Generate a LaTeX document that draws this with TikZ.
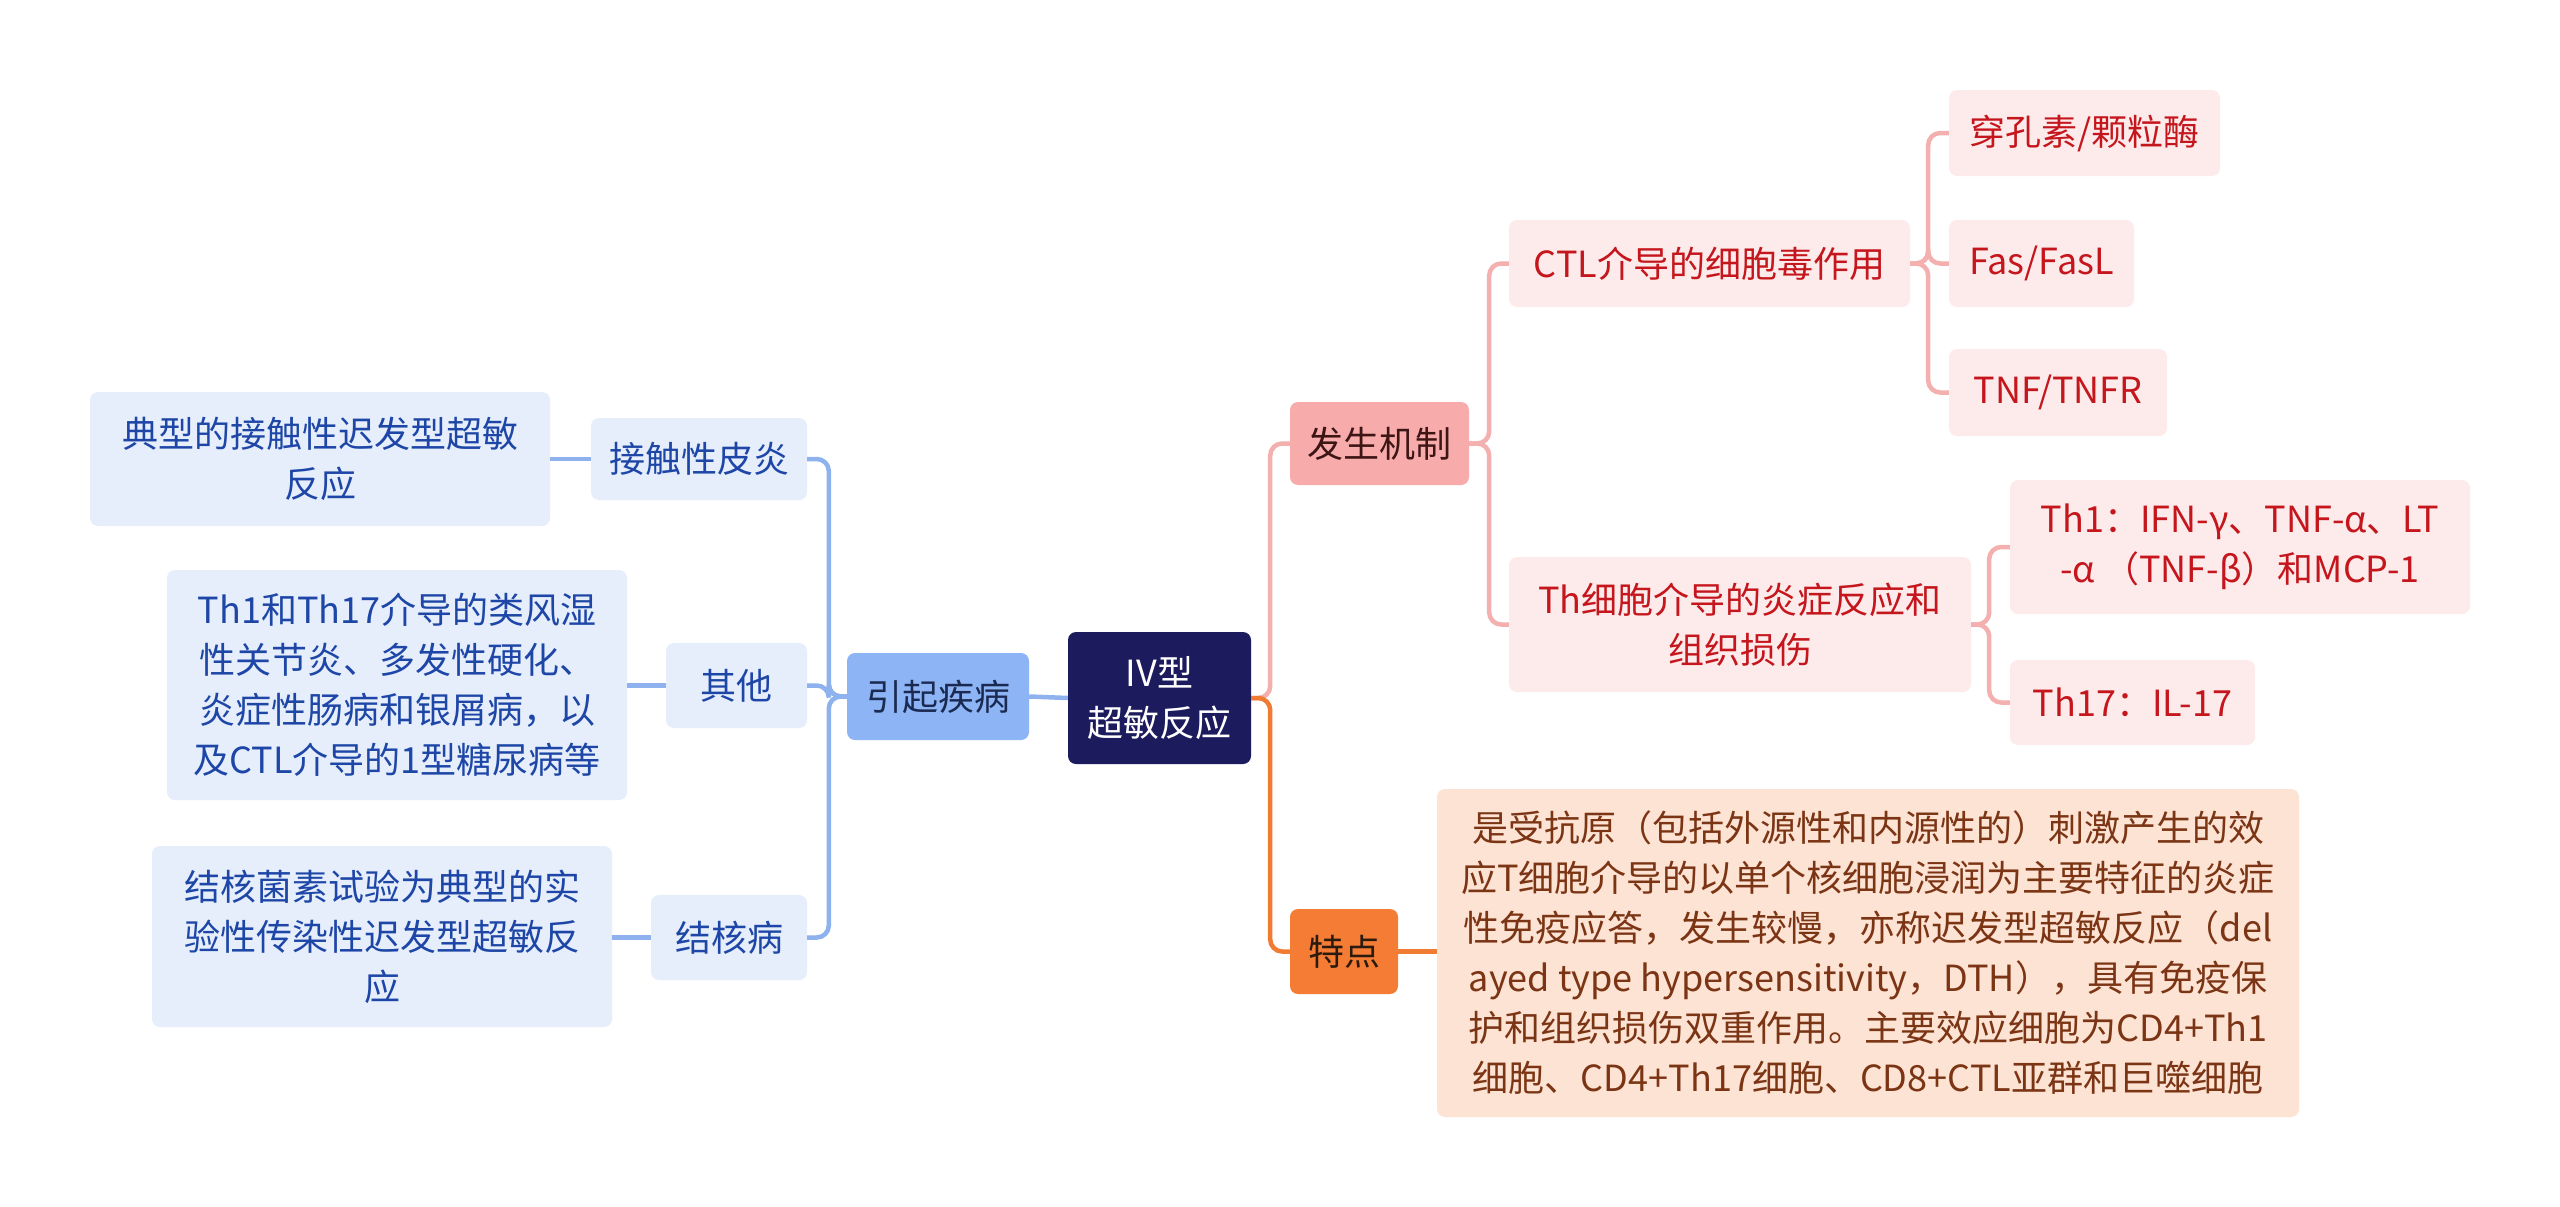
\documentclass[tikz,border=0pt]{standalone}
\usepackage{fontspec}
\setmainfont{Noto Sans CJK SC}
\definecolor{navy}{HTML}{1C1B5E}
\definecolor{bmid}{HTML}{8DB4F5}
\definecolor{btxtd}{HTML}{1A2A50}
\definecolor{blight}{HTML}{E6EEFC}
\definecolor{btxt}{HTML}{1D46A6}
\definecolor{bline}{HTML}{8DB2EE}
\definecolor{pmid}{HTML}{F8ABAB}
\definecolor{ptxtd}{HTML}{3D1515}
\definecolor{plight}{HTML}{FDEBEB}
\definecolor{ptxt}{HTML}{C4161C}
\definecolor{pline}{HTML}{F4AFAF}
\definecolor{omid}{HTML}{F47C35}
\definecolor{otxtd}{HTML}{2B1A0E}
\definecolor{olight}{HTML}{FDE3D4}
\definecolor{otxt}{HTML}{7B3515}
\definecolor{oline}{HTML}{F07B32}
\tikzset{
  basebox/.style={rounded corners=8pt, inner sep=0pt, align=center,
    font=\fontsize{36pt}{50pt}\selectfont},
  rootbox/.style={basebox, fill=navy, text=white},
  bmidbox/.style={basebox, fill=bmid, text=btxtd},
  blbox/.style={basebox, fill=blight, text=btxt},
  pmidbox/.style={basebox, fill=pmid, text=ptxtd},
  plbox/.style={basebox, fill=plight, text=ptxt},
  omidbox/.style={basebox, fill=omid, text=otxtd},
  olbox/.style={basebox, fill=olight, text=otxt},
  conn/.style={line width=4.5pt, rounded corners=12pt},
  bconn/.style={conn, draw=bline},
  pconn/.style={conn, draw=pline},
  oconn/.style={conn, draw=oline},
}
\begin{document}
\begin{tikzpicture}[x=1pt,y=-1pt]
\fill[white] (0,0) rectangle (2560,1207);
\useasboundingbox (0,0) rectangle (2560,1207);

% root
\node[rootbox, minimum width=183pt, minimum height=132pt] (c) at (1159.5,698) {IV型\\超敏反应};

% left side
\node[bmidbox, minimum width=182pt, minimum height=87pt] (yq) at (938,696.5) {引起疾病};
\node[blbox, minimum width=216pt, minimum height=82pt] (L1) at (699,459) {接触性皮炎};
\node[blbox, minimum width=141pt, minimum height=85pt] (L2) at (736.5,685.5) {其他};
\node[blbox, minimum width=156pt, minimum height=85pt] (L3) at (729,937.5) {结核病};
\node[blbox, minimum width=460pt, minimum height=134pt] (L1a) at (320,459) {典型的接触性迟发型超敏\\反应};
\node[blbox, minimum width=460pt, minimum height=230pt] (L2a) at (397,685) {Th1和Th17介导的类风湿\\性关节炎、多发性硬化、\\炎症性肠病和银屑病，以\\及CTL介导的1型糖尿病等};
\node[blbox, minimum width=460pt, minimum height=181pt] (L3a) at (382,936.5) {结核菌素试验为典型的实\\验性传染性迟发型超敏反\\应};

% right side
\node[pmidbox, minimum width=179pt, minimum height=83pt] (R1) at (1379.5,443.5) {发生机制};
\node[omidbox, minimum width=108pt, minimum height=85pt] (R2) at (1344,951.5) {特点};
\node[plbox, minimum width=401pt, minimum height=87pt] (R1a) at (1709.5,263.5) {CTL介导的细胞毒作用};
\node[plbox, minimum width=462pt, minimum height=135pt] (R1b) at (1740,624.5) {Th细胞介导的炎症反应和\\组织损伤};
\node[plbox, minimum width=271pt, minimum height=86pt] (R1a1) at (2084.5,133) {穿孔素/颗粒酶};
\node[plbox, minimum width=185pt, minimum height=87pt] (R1a2) at (2041.5,263.5) {Fas/FasL};
\node[plbox, minimum width=218pt, minimum height=87pt] (R1a3) at (2058,392.5) {TNF/TNFR};
\node[plbox, minimum width=460pt, minimum height=134pt] (R1b1) at (2240,547) {Th1：IFN-γ、TNF-α、LT\\-α （TNF-β）和MCP-1};
\node[plbox, minimum width=245pt, minimum height=85pt] (R1b2) at (2132.5,702.5) {Th17：IL-17};
\node[olbox, minimum width=862pt, minimum height=328pt] (R2a) at (1868,953) { 是受抗原（包括外源性和内源性的）刺激产生的效\\应T细胞介导的以单个核细胞浸润为主要特征的炎症\\性免疫应答，发生较慢，亦称迟发型超敏反应（del\\ayed type hypersensitivity，DTH），具有免疫保\\护和组织损伤双重作用。主要效应细胞为CD4+Th1\\细胞、CD4+Th17细胞、CD8+CTL亚群和巨噬细胞};

% connectors left
\draw[bconn] (c.west) -- (yq.east);
\draw[bconn] (yq.west) -- ++(-18,0) |- (L1.east);
\draw[bconn] (yq.west) -- ++(-18,0) |- (L2.east);
\draw[bconn] (yq.west) -- ++(-18,0) |- (L3.east);
\draw[bconn] (L1.west) -- (L1.west -| L1a.east);
\draw[bconn] (L2.west) -- (L2.west -| L2a.east);
\draw[bconn] (L3.west) -- (L3.west -| L3a.east);

% connectors right
\draw[pconn] (c.east) -- ++(19,0) |- (R1.west);
\draw[oconn] (c.east) -- ++(19,0) |- (R2.west);
\draw[oconn] (R2.east) -- (R2.east -| R2a.west);
\draw[pconn] (R1.east) -- ++(20,0) |- (R1a.west);
\draw[pconn] (R1.east) -- ++(20,0) |- (R1b.west);
\draw[pconn] (R1a.east) -- ++(18,0) |- (R1a1.west);
\draw[pconn] (R1a.east) -- ++(18,0) |- (R1a2.west);
\draw[pconn] (R1a.east) -- ++(18,0) |- (R1a3.west);
\draw[pconn] (R1b.east) -- ++(18,0) |- (R1b1.west);
\draw[pconn] (R1b.east) -- ++(18,0) |- (R1b2.west);
\end{tikzpicture}
\end{document}
